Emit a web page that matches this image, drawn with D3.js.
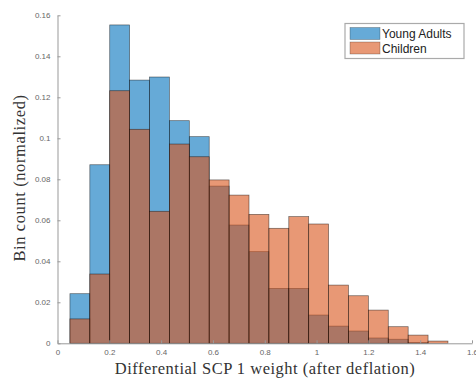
<!DOCTYPE html>
<html>
<head>
<meta charset="utf-8">
<script src="https://cdn.jsdelivr.net/npm/d3@7"></script>
<style>
  body { margin: 0; background: #fff; }
  svg { display: block; }
</style>
</head>
<body>
<svg id="vis"></svg>
<script>
const WIDTH = 476;
const HEIGHT = 382;

// histogram bins (MATLAB auto binning), 19 bins
const BIN_START = 0.048;
const BIN_WIDTH = 0.0768;

// normalized bin counts
const youngAdults = [0.0242, 0.0871, 0.1553, 0.1284, 0.1299, 0.1086, 0.1008, 0.0767, 0.0577,
  0.0447, 0.0268, 0.0268, 0.0138, 0.0084, 0.006, 0.0026, 0.002, 0.0004, 0];
const children = [0.0119, 0.0338, 0.1232, 0.1044, 0.0644, 0.0972, 0.091, 0.0797, 0.0723,
  0.0629, 0.0561, 0.0618, 0.0582, 0.0284, 0.0232, 0.0162, 0.0081, 0.004, 0.0011];

const SERIES = [
  { name: "Young Adults", values: youngAdults, color: "rgb(0,114,189)" },
  { name: "Children", values: children, color: "rgb(217,83,25)" },
];

const xTicks = [0, 0.2, 0.4, 0.6, 0.8, 1, 1.2, 1.4, 1.6];
const yTicks = [0, 0.02, 0.04, 0.06, 0.08, 0.1, 0.12, 0.14, 0.16];

const MARGIN = { top: 15.3, bottom: 38.7, left: 57.5, right: 4 };
const HEIGHTVIS = HEIGHT - MARGIN.top - MARGIN.bottom;

const svg = d3.select("#vis").attr("width", WIDTH).attr("height", HEIGHT);

const contenedor = svg
  .append("g")
  .attr("transform", `translate(${MARGIN.left} ${MARGIN.top})`);

const escalaX = d3.scaleLinear().domain([0, 1.6]).range([0, 414.5]);
const escalaY = d3.scaleLinear().domain([0, 0.16]).range([HEIGHTVIS, 0]);

// barras: azul primero, naranja encima con transparencia
SERIES.forEach((s) => {
  contenedor
    .append("g")
    .selectAll("rect")
    .data(s.values)
    .join("rect")
    .attr("x", (_, i) => escalaX(BIN_START + i * BIN_WIDTH))
    .attr("width", escalaX(BIN_WIDTH) - escalaX(0))
    .attr("y", (d) => escalaY(d))
    .attr("height", (d) => escalaY(0) - escalaY(d))
    .attr("fill", s.color)
    .attr("fill-opacity", 0.6)
    .attr("stroke", "#000")
    .attr("stroke-opacity", 0.55)
    .attr("stroke-width", 0.7);
});

// ejes estilo MATLAB (ticks hacia adentro)
const ejeX = d3
  .axisBottom(escalaX)
  .tickValues(xTicks)
  .tickSize(-3)
  .tickPadding(6)
  .tickSizeOuter(0)
  .tickFormat((d) => d3.format("~g")(d));
const ejeY = d3
  .axisLeft(escalaY)
  .tickValues(yTicks)
  .tickSize(-3)
  .tickPadding(7)
  .tickSizeOuter(0)
  .tickFormat((d) => d3.format("~g")(d));

const gX = contenedor
  .append("g")
  .attr("transform", `translate(0, ${HEIGHTVIS})`)
  .call(ejeX);
const gY = contenedor.append("g").call(ejeY);

[gX, gY].forEach((g) => {
  g.select(".domain").attr("stroke", "#999").attr("stroke-width", 1);
  g.selectAll(".tick line").attr("stroke", "#999");
  g.selectAll(".tick text")
    .attr("fill", "#666")
    .style("font-family", "'Liberation Sans', Arial, sans-serif")
    .style("font-size", "8px");
});

// titulos de ejes
svg
  .append("text")
  .attr("x", 265)
  .attr("y", 374)
  .attr("text-anchor", "middle")
  .style("font-family", "'Liberation Serif', 'DejaVu Serif', serif")
  .style("font-size", "16.5px")
  .style("letter-spacing", "0.5px")
  .attr("fill", "#333")
  .text("Differential SCP 1 weight (after deflation)");

svg
  .append("text")
  .attr("transform", "translate(25, 178) rotate(-90)")
  .attr("text-anchor", "middle")
  .style("font-family", "'Liberation Serif', 'DejaVu Serif', serif")
  .style("font-size", "16.5px")
  .style("letter-spacing", "0.6px")
  .attr("fill", "#333")
  .text("Bin count (normalized)");

// leyenda
const leyenda = svg.append("g").attr("transform", "translate(345, 23.5)");
leyenda
  .append("rect")
  .attr("width", 119)
  .attr("height", 35)
  .attr("fill", "#fff")
  .attr("stroke", "#aaa")
  .attr("stroke-width", 1.2);
leyenda
  .selectAll("rect.sw")
  .data(SERIES)
  .join("rect")
  .attr("class", "sw")
  .attr("x", 5)
  .attr("y", (_, i) => 4 + i * 14.5)
  .attr("width", 30)
  .attr("height", 12)
  .attr("fill", (d) => d.color)
  .attr("fill-opacity", 0.6)
  .attr("stroke", "#000")
  .attr("stroke-opacity", 0.4)
  .attr("stroke-width", 0.6);
leyenda
  .selectAll("text")
  .data(SERIES)
  .join("text")
  .attr("x", 37)
  .attr("y", (_, i) => 14.5 + i * 14.5)
  .style("font-family", "'Liberation Sans', Arial, sans-serif")
  .style("font-size", "12px")
  .attr("fill", "#222")
  .text((d) => d.name);
</script>
</body>
</html>
